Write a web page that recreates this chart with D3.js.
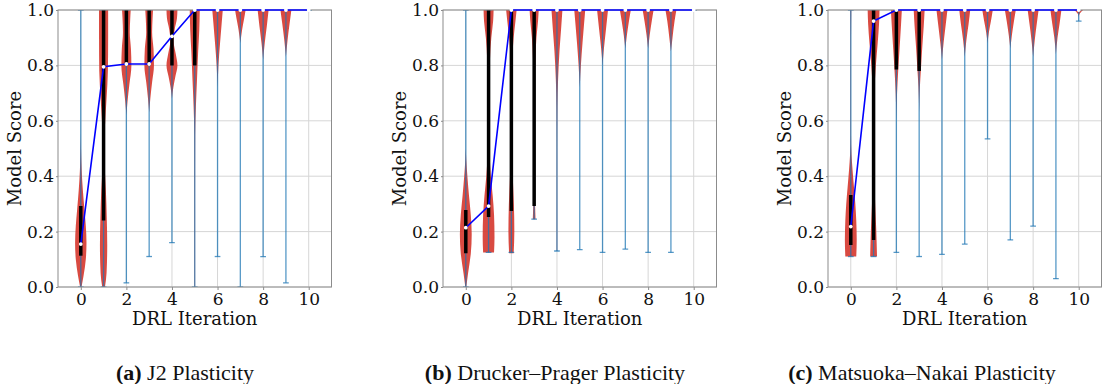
<!DOCTYPE html>
<html><head><meta charset="utf-8">
<script src="https://cdn.jsdelivr.net/npm/d3@7"></script>
<style>body{margin:0;background:#fff}svg{display:block}</style>
</head><body>
<svg id="chart" width="1105" height="384"></svg>
<script>
// ---------- data ----------
const iterations = [0,1,2,3,4,5,6,7,8,9,10];
const xTickValues = [0,2,4,6,8,10];
const yTickValues = [0,0.2,0.4,0.6,0.8,1.0];
const xLabel = "DRL Iteration";
const yLabel = "Model Score";
const captionTags = ["(a)", "(b)", "(c)"];
const captionTexts = ["J2 Plasticity", "Drucker\u2013Prager Plasticity", "Matsuoka\u2013Nakai Plasticity"];

// (a) J2 plasticity
const j2Median = [0.155,0.795,0.805,0.805,0.905,1,1,1,1,1,1];
const j2Q1     = [0.113,0.24,0.8,0.8,0.8,0.8,1,1,1,1,1];
const j2Q3     = [0.292,1,1,1,1,1,1,1,1,1,1];
const j2Min    = [0,0,0.015,0.11,0.16,0,0.11,0,0.11,0.015,1];
const j2Max    = [1,1,1,1,1,1,1,1,1,1,1];
const j2Violins = [
  [[0,0.03],[0.04,0.12],[0.1,0.22],[0.16,0.25],[0.22,0.22],[0.28,0.16],[0.35,0.09],[0.42,0.04],[0.5,0.01],[0.56,0]],
  [[0,0.06],[0.05,0.13],[0.15,0.16],[0.25,0.14],[0.35,0.1],[0.43,0.05],[0.5,0.03],[0.58,0.06],[0.68,0.13],[0.78,0.19],[0.9,0.2],[1.0,0.2]],
  [[0.62,0],[0.67,0.05],[0.73,0.13],[0.8,0.22],[0.86,0.2],[0.92,0.15],[0.97,0.17],[1.0,0.19]],
  [[0.63,0],[0.68,0.05],[0.74,0.13],[0.8,0.21],[0.86,0.19],[0.92,0.13],[0.97,0.15],[1.0,0.17]],
  [[0.68,0],[0.72,0.06],[0.76,0.15],[0.8,0.24],[0.84,0.17],[0.89,0.07],[0.93,0.12],[0.97,0.22],[1.0,0.24]],
  [[0,0.015],[0.3,0.015],[0.55,0.02],[0.65,0.05],[0.75,0.1],[0.85,0.15],[0.93,0.2],[1.0,0.22]],
  [[0.72,0],[0.8,0.04],[0.88,0.11],[0.95,0.18],[1.0,0.23]],
  [[0.88,0],[0.93,0.08],[0.97,0.17],[1.0,0.23]],
  [[0.82,0],[0.88,0.07],[0.94,0.16],[1.0,0.24]],
  [[0.83,0],[0.89,0.07],[0.95,0.16],[1.0,0.24]],
  []
];

// (b) Drucker-Prager plasticity
const dpMedian = [0.214,0.292,1,1,1,1,1,1,1,1,1];
const dpQ1     = [0.122,0.253,0.274,0.292,1,1,1,1,1,1,1];
const dpQ3     = [0.278,1,1,1,1,1,1,1,1,1,1];
const dpMin    = [0,0.125,0.125,0.245,0.13,0.135,0.125,0.137,0.125,0.125,1];
const dpMax    = [1,1,1,1,1,1,1,1,1,1,1];
const dpViolins = [
  [[0,0.02],[0.05,0.1],[0.12,0.22],[0.19,0.26],[0.26,0.22],[0.33,0.14],[0.4,0.07],[0.46,0.02],[0.5,0]],
  [[0.125,0.24],[0.18,0.26],[0.26,0.24],[0.33,0.18],[0.4,0.1],[0.47,0.05],[0.55,0.03],[0.7,0.03],[0.82,0.06],[0.9,0.12],[0.96,0.2],[1.0,0.22]],
  [[0.122,0.1],[0.2,0.13],[0.3,0.11],[0.4,0.06],[0.5,0.03],[0.7,0.02],[0.82,0.04],[0.9,0.1],[0.96,0.18],[1.0,0.23]],
  [[0.245,0.06],[0.3,0.04],[0.45,0.02],[0.7,0.02],[0.82,0.05],[0.9,0.1],[0.96,0.17],[1.0,0.2]],
  [[0.13,0.01],[0.5,0.01],[0.65,0.02],[0.75,0.05],[0.85,0.11],[0.93,0.18],[1.0,0.24]],
  [[0.72,0],[0.8,0.05],[0.88,0.12],[0.95,0.19],[1.0,0.24]],
  [[0.8,0],[0.86,0.06],[0.93,0.15],[1.0,0.24]],
  [[0.86,0],[0.91,0.07],[0.96,0.16],[1.0,0.24]],
  [[0.86,0],[0.91,0.07],[0.96,0.16],[1.0,0.24]],
  [[0.85,0],[0.9,0.07],[0.96,0.16],[1.0,0.24]],
  []
];

// (c) Matsuoka-Nakai plasticity
const mnMedian = [0.218,0.96,1,1,1,1,1,1,1,1,1];
const mnQ1     = [0.152,0.17,0.785,0.78,1,1,1,1,1,1,1];
const mnQ3     = [0.332,1,1,1,1,1,1,1,1,1,1];
const mnMin    = [0.11,0.11,0.125,0.11,0.118,0.155,0.535,0.17,0.22,0.03,0.96];
const mnMax    = [1,1,1,1,1,1,1,1,1,1,1];
const mnViolins = [
  [[0.11,0.24],[0.17,0.26],[0.24,0.24],[0.3,0.2],[0.36,0.14],[0.42,0.08],[0.48,0.03],[0.55,0.01],[0.9,0.01],[1.0,0.02]],
  [[0.11,0.15],[0.2,0.12],[0.3,0.07],[0.4,0.04],[0.55,0.03],[0.7,0.04],[0.8,0.1],[0.88,0.18],[0.95,0.24],[1.0,0.26]],
  [[0.6,0],[0.7,0.03],[0.78,0.08],[0.86,0.14],[0.94,0.2],[1.0,0.24]],
  [[0.63,0],[0.72,0.03],[0.79,0.08],[0.87,0.14],[0.94,0.2],[1.0,0.24]],
  [[0.82,0],[0.88,0.07],[0.95,0.17],[1.0,0.24]],
  [[0.83,0],[0.89,0.07],[0.95,0.17],[1.0,0.24]],
  [[0.88,0],[0.92,0.06],[0.96,0.15],[1.0,0.23]],
  [[0.86,0],[0.91,0.07],[0.96,0.16],[1.0,0.24]],
  [[0.83,0],[0.89,0.07],[0.95,0.16],[1.0,0.24]],
  [[0.84,0],[0.9,0.07],[0.95,0.16],[1.0,0.24]],
  [[0.975,0],[0.985,0.03],[0.995,0.12],[1.0,0.2]]
];

// ---------- layout ----------
const panels = [
  {median:j2Median,q1:j2Q1,q3:j2Q3,min:j2Min,max:j2Max,violins:j2Violins,left:58,capX:185},
  {median:dpMedian,q1:dpQ1,q3:dpQ3,min:dpMin,max:dpMax,violins:dpViolins,left:443,capX:555},
  {median:mnMedian,q1:mnQ1,q3:mnQ3,min:mnMin,max:mnMax,violins:mnViolins,left:828,capX:922}
];
const plotW = 273.5, plotTop = 10, plotBottom = 287;
const font = "'DejaVu Serif', serif";
const svg = d3.select("#chart");

panels.forEach((p, k) => {
  const x = d3.scaleLinear().domain([-1, 11]).range([p.left, p.left + plotW]);
  const y = d3.scaleLinear().domain([0, 1]).range([plotBottom, plotTop]);
  const g = svg.append("g");
  const clipId = "clip" + k;
  svg.append("clipPath").attr("id", clipId).append("rect")
    .attr("x", p.left).attr("y", plotTop).attr("width", plotW).attr("height", plotBottom - plotTop);

  // grid
  g.append("g").selectAll("line").data(yTickValues).join("line")
    .attr("x1", p.left).attr("x2", p.left + plotW)
    .attr("y1", d => y(d)).attr("y2", d => y(d))
    .attr("stroke", "#d6d6d6").attr("stroke-width", 1);
  g.append("g").selectAll("line").data(xTickValues).join("line")
    .attr("x1", d => x(d)).attr("x2", d => x(d))
    .attr("y1", plotTop).attr("y2", plotBottom)
    .attr("stroke", "#d6d6d6").attr("stroke-width", 1);

  const plot = g.append("g").attr("clip-path", `url(#${clipId})`);

  // violins
  iterations.forEach(i => {
    const prof = p.violins[i];
    if (!prof.length) return;
    const area = d3.area()
      .y(d => y(d[0]))
      .x0(d => x(i - d[1]))
      .x1(d => x(i + d[1]))
      .curve(d3.curveMonotoneY);
    plot.append("path").datum(prof).attr("d", area)
      .attr("fill", "#d5362c").attr("fill-opacity", 0.9);
  });

  // extrema lines and caps
  const lineCol = "#1f77b4";
  plot.append("g").selectAll("line").data(iterations).join("line")
    .attr("x1", i => x(i)).attr("x2", i => x(i))
    .attr("y1", i => y(p.min[i])).attr("y2", i => y(p.max[i]))
    .attr("stroke", lineCol).attr("stroke-opacity", 0.75).attr("stroke-width", 1.3);
  plot.append("g").selectAll("line").data(iterations).join("line")
    .attr("x1", i => x(i - 0.125)).attr("x2", i => x(i + 0.125))
    .attr("y1", i => y(p.min[i])).attr("y2", i => y(p.min[i]))
    .attr("stroke", lineCol).attr("stroke-opacity", 0.75).attr("stroke-width", 1.3);
  plot.append("g").selectAll("line").data(iterations).join("line")
    .attr("x1", i => x(i - 0.125)).attr("x2", i => x(i + 0.125))
    .attr("y1", i => y(p.max[i])).attr("y2", i => y(p.max[i]))
    .attr("stroke", lineCol).attr("stroke-opacity", 0.75).attr("stroke-width", 1.3);

  // IQR bars
  plot.append("g").selectAll("line").data(iterations.filter(i => p.q3[i] > p.q1[i])).join("line")
    .attr("x1", i => x(i)).attr("x2", i => x(i))
    .attr("y1", i => y(p.q1[i])).attr("y2", i => y(p.q3[i]))
    .attr("stroke", "#000").attr("stroke-width", 3.5);

  // spines
  g.append("rect").attr("x", p.left).attr("y", plotTop).attr("width", plotW).attr("height", plotBottom - plotTop)
    .attr("fill", "none").attr("stroke", "#8c8c8c").attr("stroke-width", 1);

  // median line
  const line = d3.line().x(i => x(i)).y(i => y(p.median[i]));
  g.append("path").datum(iterations).attr("d", line)
    .attr("fill", "none").attr("stroke", "#0000ff").attr("stroke-width", 1.6);
  g.append("g").selectAll("circle").data(iterations).join("circle")
    .attr("cx", i => x(i)).attr("cy", i => y(p.median[i])).attr("r", 1.9)
    .attr("fill", "#fff");

  // ticks
  const ax = g.append("g").attr("transform", `translate(0,${plotBottom})`)
    .call(d3.axisBottom(x).tickValues(xTickValues).tickSize(3).tickPadding(3).tickFormat(d3.format("d")));
  const ay = g.append("g").attr("transform", `translate(${p.left},0)`)
    .call(d3.axisLeft(y).tickValues(yTickValues).tickSize(2).tickPadding(2).tickFormat(d3.format(".1f")));
  [ax, ay].forEach(a => {
    a.select(".domain").remove();
    a.selectAll(".tick line").attr("stroke", "#8c8c8c");
    a.selectAll(".tick text").attr("font-family", font).attr("font-size", 17).attr("fill", "#111");
  });

  // axis labels
  g.append("text").attr("x", p.left + plotW / 2).attr("y", 325)
    .attr("text-anchor", "middle").attr("font-family", font).attr("font-size", 18).attr("fill", "#111")
    .text(xLabel);
  g.append("text").attr("transform", `translate(${p.left - 44},${(plotTop + plotBottom) / 2}) rotate(-90)`)
    .attr("text-anchor", "middle").attr("dominant-baseline", "central")
    .attr("font-family", font).attr("font-size", 18).attr("fill", "#111")
    .text(yLabel);

  // caption
  const cap = g.append("text").attr("x", p.capX).attr("y", 380).attr("text-anchor", "middle")
    .attr("font-family", "'Liberation Serif', serif").attr("font-size", 22).attr("fill", "#111");
  cap.append("tspan").attr("font-weight", "bold").text(captionTags[k]);
  cap.append("tspan").text(" " + captionTexts[k]);
});
</script>
</body></html>
